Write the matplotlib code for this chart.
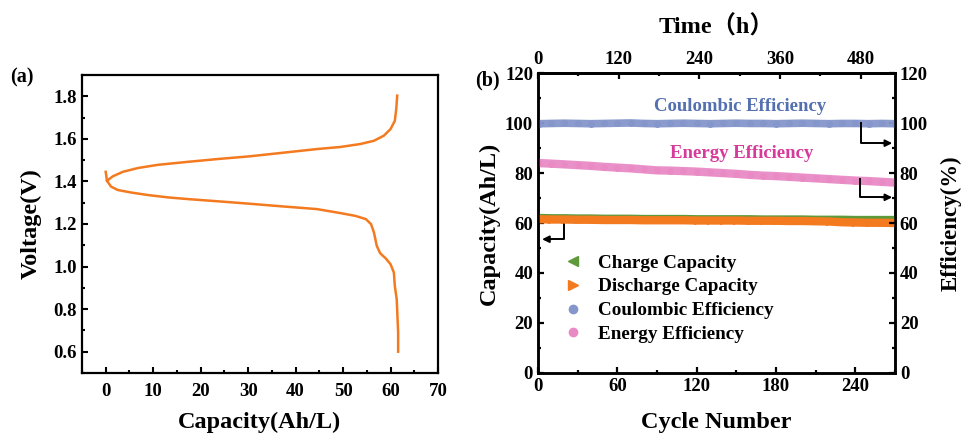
import numpy as np
import matplotlib.pyplot as plt
from matplotlib.lines import Line2D
from matplotlib.ticker import MultipleLocator

plt.rcParams['font.family'] = ['Liberation Serif', 'Noto Sans CJK SC']
plt.rcParams['font.weight'] = 'bold'
plt.rcParams['axes.labelweight'] = 'bold'

# (a) charge / discharge curve
chg_cap = [0.27, 1.5, 3.6, 6.8, 11.0, 17.3, 24.0, 30.4, 37.0, 44.5, 49.5, 53.7, 56.5,
           58.6, 60.0, 60.9, 61.2, 61.4]
chg_v = [1.403, 1.424, 1.445, 1.463, 1.478, 1.492, 1.506, 1.518, 1.534, 1.552, 1.562,
         1.576, 1.591, 1.615, 1.646, 1.685, 1.74, 1.803]
dis_cap = [0.0, 0.27, 1.1, 2.5, 5.3, 8.9, 13.1, 17.3, 24.0, 30.4, 37.0, 44.5, 49.5, 52.6,
           54.8, 55.9, 56.5, 57.1, 57.8, 59.0, 60.0, 60.7, 60.9, 61.3, 61.6, 61.6]
dis_v = [1.445, 1.403, 1.376, 1.360, 1.348, 1.336, 1.325, 1.317, 1.306, 1.295, 1.283,
         1.270, 1.251, 1.238, 1.223, 1.199, 1.160, 1.097, 1.063, 1.038, 1.011, 0.972,
         0.909, 0.846, 0.69, 0.60]

# (b) cycling data
cycles = [1, 10, 20, 30, 40, 50, 60, 70, 80, 90, 100, 110, 120, 130, 140,
          150, 160, 170, 180, 190, 200, 210, 220, 230, 240, 250, 260, 270]
charge = [62.0, 61.9, 61.9, 61.8, 61.8, 61.7, 61.7, 61.7, 61.6, 61.6, 61.6, 61.6, 61.5, 61.5,
          61.5, 61.5, 61.5, 61.4, 61.4, 61.4, 61.4, 61.3, 61.3, 61.3, 61.2, 61.2, 61.2, 61.2]
discharge = [61.5, 61.4, 61.4, 61.3, 61.3, 61.2, 61.2, 61.2, 61.1, 61.1, 61.1, 61.1, 61.0, 61.0,
             61.0, 61.0, 60.9, 60.9, 60.9, 60.8, 60.8, 60.7, 60.6, 60.3, 60.2, 60.1, 60.1, 60.0]
coulombic = [99.8, 99.9, 100.0, 99.9, 99.8, 99.9, 100.0, 100.1, 99.9, 99.8, 99.9, 100.0, 99.9, 99.8,
             99.9, 100.0, 99.9, 99.9, 99.8, 99.9, 100.0, 99.9, 99.8, 99.9, 99.9, 99.8, 99.9, 99.8]
energy = [84.0, 83.8, 83.5, 83.2, 82.9, 82.5, 82.2, 81.9, 81.5, 81.1, 81.0, 80.8, 80.6, 80.3,
          80.0, 79.7, 79.3, 79.0, 78.8, 78.5, 78.2, 77.9, 77.6, 77.3, 77.0, 76.8, 76.5, 76.2]
hours_per_cycle = 531 / 270

c_orange = '#F47A20'
c_green = '#5E9A3C'
c_blue = '#8596CB'
c_pink = '#E98AC5'

fig = plt.figure(figsize=(9.61, 4.34), dpi=100)

# ---- panel (a)
ax = fig.add_axes([0.0853, 0.1406, 0.3705, 0.6866])
ax.plot(chg_cap, chg_v, color=c_orange, lw=1.8, solid_joinstyle='round')
ax.plot(dis_cap, dis_v, color=c_orange, lw=1.8, solid_joinstyle='round')
ax.set_xlim(-5, 70)
ax.set_ylim(0.5, 1.9)
ax.set_xticks(range(0, 71, 10))
ax.set_yticks([0.6, 0.8, 1.0, 1.2, 1.4, 1.6, 1.8])
ax.xaxis.set_minor_locator(MultipleLocator(5))
ax.yaxis.set_minor_locator(MultipleLocator(0.1))
ax.tick_params(which='both', direction='in', width=1.5, labelsize=13.5)
ax.tick_params(which='major', length=4)
ax.tick_params(which='minor', length=2.5)
ax.tick_params(axis='x', pad=7)
for s in ax.spines.values():
    s.set_linewidth(1.6)
ax.set_xlabel('Capacity(Ah/L)', fontsize=17.5)
ax.set_ylabel('Voltage(V)', fontsize=17.5)
ax.xaxis.set_label_coords(0.5, -0.13)
ax.yaxis.set_label_coords(-0.112, 0.5)
fig.text(0.023, 0.822, '(a)', fontsize=14.5, weight='bold', ha='center', va='center')

# ---- panel (b)
bx = fig.add_axes([0.5598, 0.1412, 0.3715, 0.6899])
bx2 = bx.twinx()
bx.plot(cycles, charge, color=c_green, lw=6, marker='<', ms=4, zorder=3)
bx.plot(cycles, discharge, color=c_orange, lw=6, marker='>', ms=4, zorder=4)
bx2.plot(cycles, coulombic, color=c_blue, lw=5.5, marker='o', ms=4, alpha=0.95)
bx2.plot(cycles, energy, color=c_pink, lw=6, marker='o', ms=4, alpha=0.95)

bx.set_xlim(0, 270)
bx.set_ylim(0, 120)
bx2.set_ylim(0, 120)
bx.set_xticks(range(0, 241, 60))
bx.set_yticks(range(0, 121, 20))
bx2.set_yticks(range(0, 121, 20))
bx.xaxis.set_minor_locator(MultipleLocator(30))
bx.yaxis.set_minor_locator(MultipleLocator(10))
bx2.yaxis.set_minor_locator(MultipleLocator(10))

top = bx.secondary_xaxis('top', functions=(lambda c: c * hours_per_cycle,
                                           lambda t: t / hours_per_cycle))
top.set_xticks(range(0, 481, 120))
top.xaxis.set_minor_locator(MultipleLocator(60))
top.set_xlabel('Time\uff08h\uff09', fontsize=17.5, labelpad=13)

for a in (bx, bx2, top):
    a.tick_params(which='both', direction='in', width=1.6, labelsize=13.5)
    a.tick_params(which='major', length=4)
    a.tick_params(which='minor', length=2.5)
for s in bx.spines.values():
    s.set_linewidth(1.8)
for s in bx2.spines.values():
    s.set_linewidth(1.8)
top.spines['top'].set_linewidth(1.8)

bx.set_xlabel('Cycle Number', fontsize=17.5)
bx.set_ylabel('Capacity(Ah/L)', fontsize=17.5)
bx2.set_ylabel('Efficiency(%)', fontsize=16.5)
bx.xaxis.set_label_coords(0.5, -0.13)
bx.yaxis.set_label_coords(-0.107, 0.5)
bx2.yaxis.set_label_coords(1.128, 0.5)
fig.text(0.507, 0.815, '(b)', fontsize=14.5, weight='bold', ha='center', va='center')

bx2.text(153, 106.5, 'Coulombic Efficiency', color='#5470B0', fontsize=13.5,
         weight='bold', ha='center', va='center')
bx2.text(154, 88, 'Energy Efficiency', color='#D63A9A', fontsize=13.5,
         weight='bold', ha='center', va='center')

# arrows pointing to the axis each series belongs to
arw = dict(arrowstyle='-|>', color='black', lw=1.4, mutation_scale=10)
bx2.plot([244, 244, 262], [100, 92, 92], color='black', lw=1.4)
bx2.annotate('', xy=(270, 92), xytext=(258, 92), arrowprops=arw)
bx2.plot([243.5, 243.5, 262], [77.5, 70.3, 70.3], color='black', lw=1.4)
bx2.annotate('', xy=(270, 70.3), xytext=(258, 70.3), arrowprops=arw)
bx.plot([19.8, 19.8, 8], [60, 53.5, 53.5], color='black', lw=1.4)
bx.annotate('', xy=(1, 53.5), xytext=(12, 53.5), arrowprops=arw)

handles = [
    Line2D([], [], ls='none', marker='<', color=c_green, ms=7),
    Line2D([], [], ls='none', marker='>', color=c_orange, ms=7),
    Line2D([], [], ls='none', marker='o', color=c_blue, ms=6),
    Line2D([], [], ls='none', marker='o', color=c_pink, ms=6),
]
labels = ['Charge Capacity', 'Discharge Capacity', 'Coulombic Efficiency', 'Energy Efficiency']
bx.legend(handles, labels, loc='upper left', bbox_to_anchor=(0.05, 0.421),
          frameon=False, handlelength=1.0, handletextpad=0.8, labelspacing=0.33,
          borderaxespad=0, prop={'weight': 'bold', 'size': 13.8})

fig.savefig('out.png', dpi=100)
